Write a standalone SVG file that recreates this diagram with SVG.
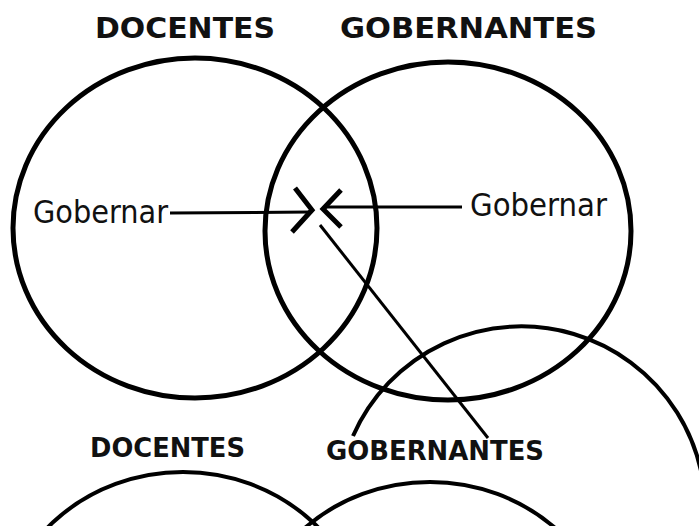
<svg xmlns="http://www.w3.org/2000/svg" width="699" height="526" viewBox="0 0 699 526">
<style>
.c{fill:none;stroke:#000;stroke-width:5}
.c2{fill:none;stroke:#000;stroke-width:4}
.t{font-family:"DejaVu Sans","Liberation Sans",sans-serif;font-stretch:condensed;font-weight:bold;fill:#111}
.g{font-family:"DejaVu Sans","Liberation Sans",sans-serif;font-stretch:condensed;fill:#111}
.ln{fill:none;stroke:#000;stroke-width:3}
.ch{fill:none;stroke:#000;stroke-width:5}
</style>
<rect width="699" height="526" fill="#fff"/>
<g id="docentes-top">
<ellipse class="c" cx="195" cy="228" rx="182" ry="170"/>
<text class="t" x="95" y="38" font-size="29" textLength="180" lengthAdjust="spacingAndGlyphs">DOCENTES</text>
<text class="g" x="33" y="223" font-size="32" textLength="135" lengthAdjust="spacingAndGlyphs">Gobernar</text>
</g>
<g id="gobernantes-top">
<ellipse class="c" cx="448" cy="231" rx="183" ry="169"/>
<text class="t" x="340" y="38" font-size="29" textLength="257" lengthAdjust="spacingAndGlyphs">GOBERNANTES</text>
<text class="g" x="470" y="216" font-size="32" textLength="137" lengthAdjust="spacingAndGlyphs">Gobernar</text>
</g>
<g id="large-circle">
<path class="c2" d="M353,436 A184,184 0 0 1 702.9,540"/>
</g>
<g id="docentes-bottom">
<ellipse class="c2" cx="183" cy="642" rx="183" ry="170"/>
<text class="t" x="90" y="457" font-size="26" textLength="155" lengthAdjust="spacingAndGlyphs">DOCENTES</text>
</g>
<g id="gobernantes-bottom">
<ellipse class="c2" cx="430" cy="652" rx="183" ry="170"/>
<text class="t" x="326" y="460" font-size="26" textLength="218" lengthAdjust="spacingAndGlyphs">GOBERNANTES</text>
</g>
<g id="connectors">
<line class="ln" x1="170" y1="213" x2="310" y2="212"/>
<polyline class="ch" points="295,188 312,210 292,232"/>
<line class="ln" x1="324" y1="207" x2="462" y2="207"/>
<polyline class="ch" points="341,190 323,209 341,227"/>
<line class="ln" x1="320" y1="225" x2="488" y2="438" stroke-width="2.5"/>
</g>
</svg>
